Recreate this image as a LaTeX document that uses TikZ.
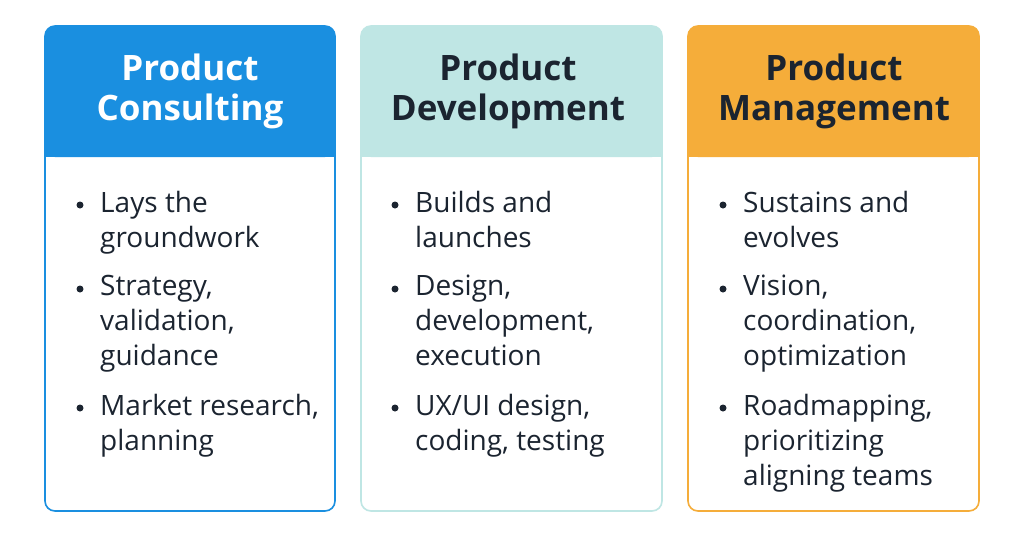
\documentclass[tikz,border=0pt]{standalone}
\usepackage{fontspec}
\setmainfont{Open Sans}
\definecolor{cblue}{HTML}{1A8FE0}
\definecolor{cteal}{HTML}{BFE6E4}
\definecolor{corange}{HTML}{F5AD3A}
\definecolor{ink}{HTML}{1B2430}
\begin{document}
\begin{tikzpicture}[x=1pt,y=-1pt,
  card/.style={rounded corners=10pt,line width=1.6pt},
  title/.style={font=\fontsize{35}{40}\selectfont\bfseries,align=center,text=ink},
  item/.style={anchor=north west,font=\fontsize{28}{35}\selectfont,align=left,text=ink,inner sep=0pt},
  dot/.style={circle,fill=ink,inner sep=0pt,minimum size=7pt}]
\useasboundingbox (0,0) rectangle (1024,539);
\fill[white] (0,0) rectangle (1024,539);
% card 1
\fill[cblue,card] (45,26) rectangle (335,157);
\draw[cblue,card] (45,26) rectangle (335,511);
\fill[cblue] (45,140) rectangle (335,157);
\node[title,text=white] (t1) at (190,91) {Product\\Consulting};
\node[dot] (d11) at (80,205) {}; \node[item] (i11) at (100,191) {Lays the\\groundwork};
\node[dot] (d12) at (80,289) {}; \node[item] (i12) at (100,275) {Strategy,\\validation,\\guidance};
\node[dot] (d13) at (80,408) {}; \node[item] (i13) at (100,394) {Market research,\\planning};
% card 2
\fill[cteal,card] (361,26) rectangle (662,157);
\draw[cteal,card] (361,26) rectangle (662,511);
\fill[cteal] (361,140) rectangle (662,157);
\node[title] (t2) at (508,91) {Product\\Development};
\node[dot] (d21) at (395,205) {}; \node[item] (i21) at (415,191) {Builds and\\launches};
\node[dot] (d22) at (395,289) {}; \node[item] (i22) at (415,275) {Design,\\development,\\execution};
\node[dot] (d23) at (395,408) {}; \node[item] (i23) at (415,394) {UX/UI design,\\coding, testing};
% card 3
\fill[corange,card] (688,26) rectangle (979,157);
\draw[corange,card] (688,26) rectangle (979,511);
\fill[corange] (688,140) rectangle (979,157);
\node[title] (t3) at (834,91) {Product\\Management};
\node[dot] (d31) at (723,205) {}; \node[item] (i31) at (743,191) {Sustains and\\evolves};
\node[dot] (d32) at (723,289) {}; \node[item] (i32) at (743,275) {Vision,\\coordination,\\optimization};
\node[dot] (d33) at (723,408) {}; \node[item] (i33) at (743,394) {Roadmapping,\\prioritizing\\aligning teams};
\end{tikzpicture}
\end{document}
